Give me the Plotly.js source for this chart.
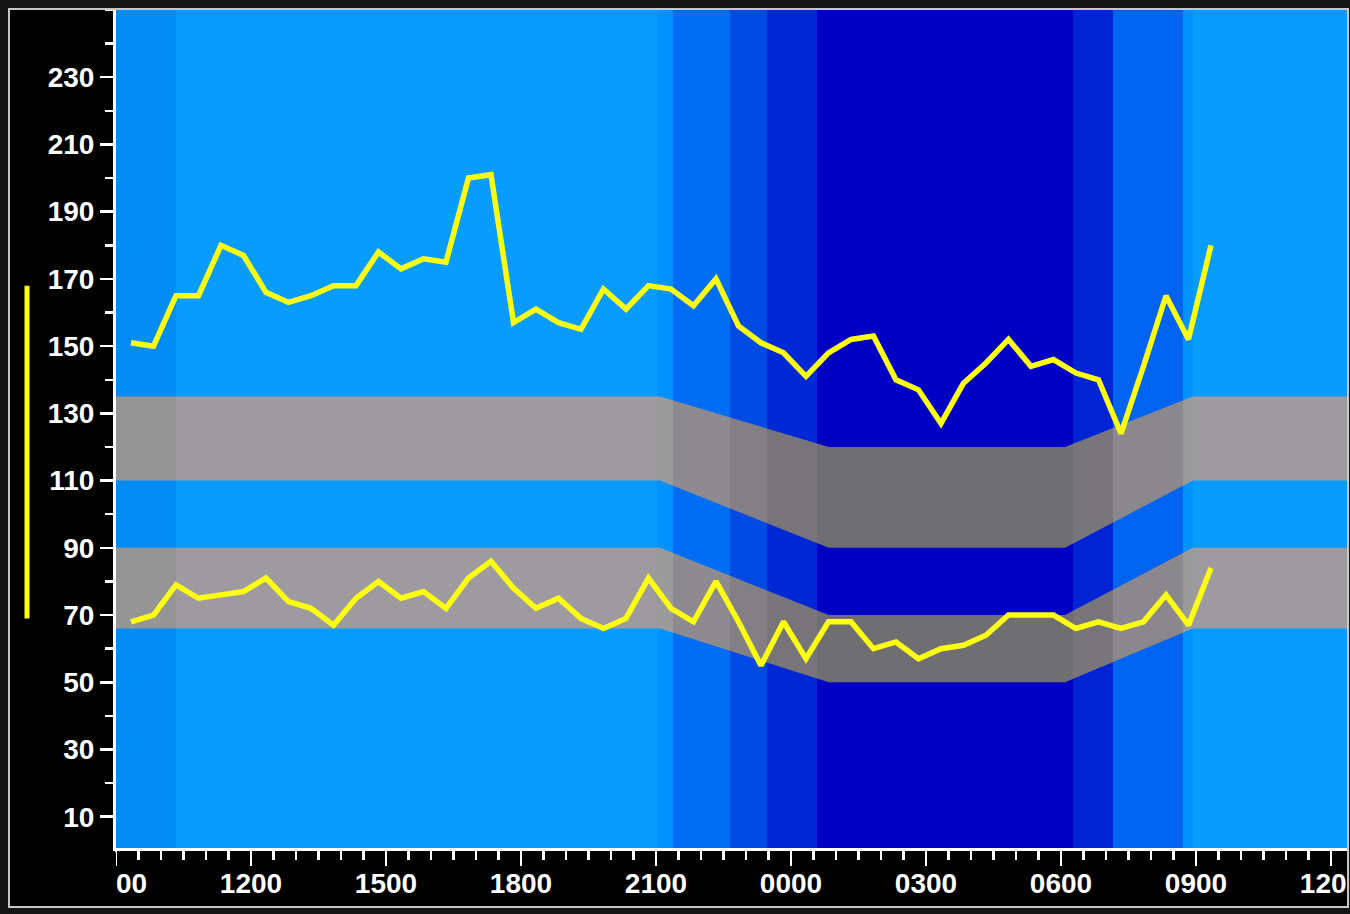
<!DOCTYPE html>
<html>
<head>
<meta charset="utf-8">
<script src="https://cdn.plot.ly/plotly-3.0.1.min.js"></script>
<style>
  html, body { margin:0; padding:0; background:#151515; width:1350px; height:914px; overflow:hidden; }
  #frame { position:absolute; left:8px; top:8px; width:1337px; height:896px; border:2px solid #c6c6c6; background:#000; }
  #chart { width:1337px; height:896px; }
</style>
</head>
<body>
<div id="frame"><div id="chart"></div></div>
<script>
// ---- measurement times (HHMM), read every 30 min ----
const times = ["0920","0950","1020","1050","1120","1150","1220","1250","1320","1350",
               "1420","1450","1520","1550","1620","1650","1720","1750","1820","1850",
               "1920","1950","2020","2050","2120","2150","2220","2250","2320","2350",
               "0020","0050","0120","0150","0220","0250","0320","0350","0420","0450",
               "0520","0550","0620","0650","0720","0750","0820","0850","0920"];
// ---- upper yellow series ----
const systolic = [151,150,165,165,180,177,166,163,165,168,
                  168,178,173,176,175,200,201,157,161,157,
                  155,167,161,168,167,162,170,156,151,148,
                  141,148,152,153,140,137,127,139,145,152,
                  144,146,142,140,124,144,165,152,180];
// ---- lower yellow series ----
const diastolic = [68,70,79,75,76,77,81,74,72,67,
                   75,80,75,77,72,81,86,78,72,75,
                   69,66,69,81,72,68,80,68,55,68,
                   57,68,68,60,62,57,60,61,64,70,
                   70,70,66,68,66,68,76,67,84];
// ---- axis ticks ----
const xTickHours  = [9,12,15,18,21,24,27,30,33,36];
const xTickLabels = ["0900","1200","1500","1800","2100","0000","0300","0600","0900","1200"];
const yTickVals   = [10,30,50,70,90,110,130,150,170,190,210,230];
// ---- grey target bands (hours since first midnight) ----
const bandHours       = [9, 21.09, 24.84, 30.09, 32.93, 36.5];
const upperBandTop    = [135,135,120,120,135,135];
const upperBandBottom = [110,110, 90, 90,110,110];
const lowerBandTop    = [ 90, 90, 70, 70, 90, 90];
const lowerBandBottom = [ 66, 66, 50, 50, 66, 66];
// ---- day / night shading steps ----
const shadeEdges = [9, 10.33, 21.02, 21.38, 22.64, 23.47, 24.58, 30.27, 31.16, 32.71, 32.93, 36.5];
const skyColors  = ["rgb(4,140,246)","rgb(8,156,255)","rgb(0,146,255)","rgb(0,110,244)","rgb(0,74,228)",
                    "rgb(0,40,212)","rgb(0,0,196)","rgb(0,36,212)","rgb(0,100,240)","rgb(0,146,255)","rgb(8,156,255)"];
const bandColors = ["#959596","#9d9b9f","#9b9b9b","#8d8b8f","#828085",
                    "#77757a","#6f6e73","#78767b","#8a888d","#9b9b9b","#9d9b9f"];

// convert HHMM to continuous hours
let dayOffset = 0, prevH = -1;
const hours = times.map(s => {
  const h = parseInt(s.slice(0,2),10) + parseInt(s.slice(2),10)/60;
  if (h < prevH) dayOffset += 24;
  prevH = h;
  return h + dayOffset;
});

// background heatmap
const nSteps = skyColors.length;
const skyScale = skyColors.map((c,i) => [i/(nSteps-1), c]);
const skyZ = [skyColors.map((c,i) => i)];

const gStart = shadeEdges[0], gStop = shadeEdges[shadeEdges.length-1];
const frac = v => (v - gStart)/(gStop - gStart);
const bandScale = [];
for (let i = 0; i < bandColors.length; i++) {
  bandScale.push([frac(shadeEdges[i]), bandColors[i]]);
  bandScale.push([frac(shadeEdges[i+1]), bandColors[i]]);
}

function bandTrace(top, bottom) {
  return {
    type:'scatter', mode:'none', hoverinfo:'skip',
    x: bandHours.concat(bandHours.slice().reverse()),
    y: top.concat(bottom.slice().reverse()),
    fill:'toself', fillcolor:'#8c8a8e',
    fillgradient:{type:'horizontal', start:gStart, stop:gStop, colorscale:bandScale}
  };
}

const lineStyle = {color:'#ffff10', width:5.5, simplify:false};

const data = [
  { type:'heatmap', x: shadeEdges, y:[0,260], z: skyZ, colorscale: skyScale,
    zmin:0, zmax:nSteps-1, zsmooth:false, showscale:false, hoverinfo:'skip' },
  bandTrace(upperBandTop, upperBandBottom),
  bandTrace(lowerBandTop, lowerBandBottom),
  { type:'scatter', mode:'lines', x: hours, y: systolic, line: lineStyle },
  { type:'scatter', mode:'lines', x: hours, y: diastolic, line: lineStyle }
];

const tickFont = {family:'"Liberation Sans", Arial, sans-serif', size:28, color:'#ffffff', weight:'bold'};

const layout = {
  width:1337, height:896,
  margin:{l:106, r:0, t:0, b:58, pad:0},
  paper_bgcolor:'#000000', plot_bgcolor:'#000000',
  showlegend:false,
  xaxis:{
    range:[9, 36.356], tickmode:'array', tickvals:xTickHours, ticktext:xTickLabels,
    ticks:'outside', ticklen:15, tickwidth:2.5, tickcolor:'#ffffff',
    showline:true, linecolor:'#ffffff', linewidth:3,
    showgrid:false, zeroline:false, tickfont:tickFont, ticklabeloverflow:'allow',
    ticklabelstandoff:-7,
    minor:{tickmode:'linear', tick0:9, dtick:0.5, ticks:'outside', ticklen:9, tickwidth:2.5, tickcolor:'#ffffff', showgrid:false},
    fixedrange:true
  },
  yaxis:{
    range:[0.7, 250], tickmode:'array', tickvals:yTickVals,
    ticks:'outside', ticklen:13, tickwidth:2.5, tickcolor:'#ffffff',
    showline:true, linecolor:'#ffffff', linewidth:3,
    showgrid:false, zeroline:false, tickfont:tickFont,
    minor:{tickmode:'linear', tick0:0, dtick:10, ticks:'outside', ticklen:8, tickwidth:2.5, tickcolor:'#ffffff', showgrid:false},
    fixedrange:true
  },
  shapes:[
    { type:'rect', xref:'paper', yref:'paper', x0:-0.09, x1:0, y0:-0.075, y1:-0.005,
      fillcolor:'#000000', line:{width:0}, layer:'above' },
    { type:'line', xref:'paper', yref:'y', x0:-0.0723, x1:-0.0723, y0:69, y1:168,
      line:{color:'#ffff10', width:5}, layer:'above' }
  ]
};

Plotly.newPlot('chart', data, layout, {displayModeBar:false, staticPlot:true});
</script>
</body>
</html>
